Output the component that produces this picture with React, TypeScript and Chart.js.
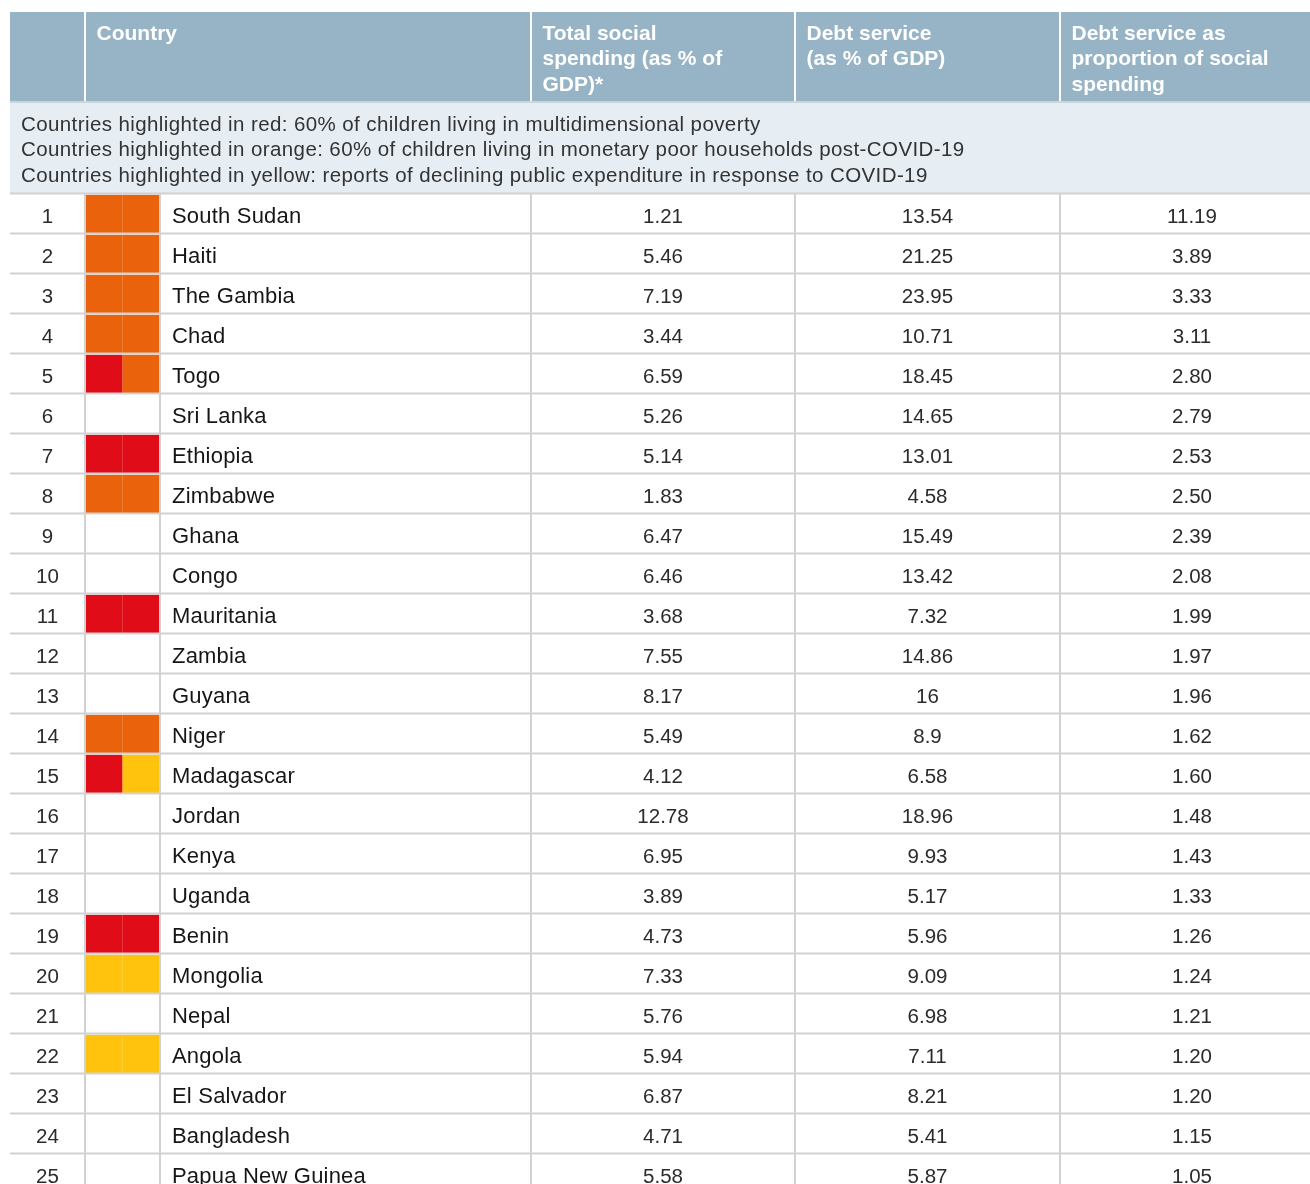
import React, { useEffect, useRef } from "react";
import { Chart, registerables } from "chart.js";

Chart.register(...registerables);

// ---------------- data ----------------
const ranks = [1, 2, 3, 4, 5, 6, 7, 8, 9, 10, 11, 12, 13, 14, 15, 16, 17, 18, 19, 20, 21, 22, 23, 24, 25];

const countries = [
  "South Sudan", "Haiti", "The Gambia", "Chad", "Togo", "Sri Lanka", "Ethiopia", "Zimbabwe",
  "Ghana", "Congo", "Mauritania", "Zambia", "Guyana", "Niger", "Madagascar", "Jordan",
  "Kenya", "Uganda", "Benin", "Mongolia", "Nepal", "Angola", "El Salvador", "Bangladesh",
  "Papua New Guinea",
];

const socialSpending = [
  1.21, 5.46, 7.19, 3.44, 6.59, 5.26, 5.14, 1.83, 6.47, 6.46, 3.68, 7.55, 8.17, 5.49, 4.12,
  12.78, 6.95, 3.89, 4.73, 7.33, 5.76, 5.94, 6.87, 4.71, 5.58,
];

const debtService = [
  13.54, 21.25, 23.95, 10.71, 18.45, 14.65, 13.01, 4.58, 15.49, 13.42, 7.32, 14.86, 16, 8.9,
  6.58, 18.96, 9.93, 5.17, 5.96, 9.09, 6.98, 7.11, 8.21, 5.41, 5.87,
];

const debtShare = [
  11.19, 3.89, 3.33, 3.11, 2.8, 2.79, 2.53, 2.5, 2.39, 2.08, 1.99, 1.97, 1.96, 1.62, 1.6,
  1.48, 1.43, 1.33, 1.26, 1.24, 1.21, 1.2, 1.2, 1.15, 1.05,
];

// highlight of each row: [left half, right half]
const highlights: (string | null)[][] = [
  ["orange", "orange"], ["orange", "orange"], ["orange", "orange"], ["orange", "orange"],
  ["red", "orange"], [null, null], ["red", "red"], ["orange", "orange"], [null, null],
  [null, null], ["red", "red"], [null, null], [null, null], ["orange", "orange"],
  ["red", "yellow"], [null, null], [null, null], [null, null], ["red", "red"],
  ["yellow", "yellow"], [null, null], ["yellow", "yellow"], [null, null], [null, null],
  [null, null],
];

const headerLabels = [
  ["Country"],
  ["Total social", "spending (as % of", "GDP)*"],
  ["Debt service", "(as % of GDP)"],
  ["Debt service as", "proportion of social", "spending"],
];

const noteLines = [
  "Countries highlighted in red: 60% of children living in multidimensional poverty",
  "Countries highlighted in orange: 60% of children living in monetary poor households post-COVID-19",
  "Countries highlighted in yellow: reports of declining public expenditure in response to COVID-19",
];

// ---------------- styles / layout ----------------
const palette: Record<string, string> = {
  red: "#E00D18",
  orange: "#EB620C",
  yellow: "#FFC30D",
};
const HEADER_BG = "#97B4C6";
const NOTE_BG = "#E6EDF3";
const GRID = "#D2D2D2";

// x layout (in canvas-wide x scale units)
const COL = {
  left: 10,
  rank: 85,
  swatchMid: 122.5,
  country: 160,
  c3: 531,
  c4: 795,
  c5: 1060,
  right: 1324,
};
// y layout (in row units: body row i spans [i, i+1])
const Y_MIN = -4.85;
const Y_MAX = 24.75;
const HEADER_TOP = -4.55;
const HEADER_BOTTOM = -2.325;
const NOTE_TOP = -2.275;
const NOTE_BOTTOM = 0;

const FONT = "'Liberation Sans', Arial, sans-serif";

const tablePlugin = {
  id: "tableDraw",
  beforeDatasetsDraw(chart: any) {
    const { ctx } = chart;
    const xs = chart.scales.x;
    const ys = chart.scales.y;
    const px = (v: number) => xs.getPixelForValue(v);
    const py = (v: number) => ys.getPixelForValue(v);
    ctx.save();
    ctx.fillStyle = "#ffffff";
    ctx.fillRect(0, 0, chart.width, chart.height);
    // header band
    ctx.fillStyle = HEADER_BG;
    ctx.fillRect(px(COL.left), py(HEADER_TOP), px(COL.right) - px(COL.left), py(HEADER_BOTTOM) - py(HEADER_TOP));
    // border between header and note
    ctx.fillStyle = "#CCD5DC";
    ctx.fillRect(px(COL.left), py(HEADER_BOTTOM), px(COL.right) - px(COL.left), py(NOTE_TOP) - py(HEADER_BOTTOM));
    // note band
    ctx.fillStyle = NOTE_BG;
    ctx.fillRect(px(COL.left), py(NOTE_TOP), px(COL.right) - px(COL.left), py(NOTE_BOTTOM) - py(NOTE_TOP));
    // header separators (white)
    ctx.strokeStyle = "#ffffff";
    ctx.lineWidth = 2;
    [COL.rank, COL.c3, COL.c4, COL.c5].forEach((c) => {
      ctx.beginPath();
      ctx.moveTo(px(c), py(HEADER_TOP));
      ctx.lineTo(px(c), py(HEADER_BOTTOM));
      ctx.stroke();
    });
    ctx.restore();
  },
  afterDatasetsDraw(chart: any) {
    const { ctx } = chart;
    const xs = chart.scales.x;
    const ys = chart.scales.y;
    const px = (v: number) => xs.getPixelForValue(v);
    const py = (v: number) => ys.getPixelForValue(v);
    const n = countries.length;
    ctx.save();
    // grid lines in body
    ctx.strokeStyle = GRID;
    ctx.lineWidth = 2;
    for (let k = 0; k <= n; k++) {
      ctx.beginPath();
      ctx.moveTo(px(COL.left), py(k) - 0.5);
      ctx.lineTo(px(COL.right), py(k) - 0.5);
      ctx.stroke();
    }
    [COL.rank, COL.country, COL.c3, COL.c4, COL.c5].forEach((c) => {
      ctx.beginPath();
      ctx.moveTo(px(c), py(0));
      ctx.lineTo(px(c), py(n));
      ctx.stroke();
    });

    // header text
    ctx.fillStyle = "#ffffff";
    ctx.font = `bold 21px ${FONT}`;
    ctx.textAlign = "left";
    ctx.textBaseline = "alphabetic";
    const headerX = [COL.rank, COL.c3, COL.c4, COL.c5];
    const hTop = py(HEADER_TOP);
    headerLabels.forEach((lines, ci) => {
      lines.forEach((t, li) => {
        ctx.fillText(t, px(headerX[ci]) + 11.5, hTop + 28 + li * 25.3);
      });
    });

    // note text
    ctx.fillStyle = "#333333";
    ctx.font = `20.5px ${FONT}`;
    ctx.letterSpacing = "0.4px";
    const nTop = py(NOTE_TOP);
    noteLines.forEach((t, li) => {
      ctx.fillText(t, px(COL.left) + 11, nTop + 28 + li * 25.4);
    });
    ctx.letterSpacing = "0px";

    // body text
    for (let i = 0; i < n; i++) {
      const base = py(i + 0.5) + 8.5;
      ctx.font = `20.5px ${FONT}`;
      ctx.fillStyle = "#2b2b2b";
      ctx.textAlign = "center";
      ctx.letterSpacing = "0px";
      ctx.fillText(String(ranks[i]), (px(COL.left) + px(COL.rank)) / 2, base);
      ctx.fillText(socialSpending[i].toFixed(2), (px(COL.c3) + px(COL.c4)) / 2, base);
      ctx.fillText(String(debtService[i]), (px(COL.c4) + px(COL.c5)) / 2, base);
      ctx.fillText(debtShare[i].toFixed(2), (px(COL.c5) + px(COL.right)) / 2, base);
      ctx.textAlign = "left";
      ctx.fillStyle = "#161616";
      ctx.font = `22px ${FONT}`;
      ctx.letterSpacing = "0.2px";
      ctx.fillText(countries[i], px(COL.country) + 12, base);
    }
    ctx.letterSpacing = "0px";
    ctx.restore();
  },
};

// bar data for the colour swatches
const swatchPoints: { x: [number, number]; y: number }[] = [];
const swatchColors: string[] = [];
highlights.forEach((pair, i) => {
  const [l, r] = pair;
  if (l) {
    swatchPoints.push({ x: [COL.rank + 1, COL.swatchMid - 0.2], y: i + 0.5 });
    swatchColors.push(palette[l]);
  }
  if (r) {
    swatchPoints.push({ x: [COL.swatchMid + 0.3, COL.country - 0.6], y: i + 0.5 });
    swatchColors.push(palette[r]);
  }
});

export default function App() {
  const ref = useRef<HTMLCanvasElement | null>(null);
  useEffect(() => {
    if (!ref.current) return;
    const chart = new Chart(ref.current, {
      type: "bar",
      data: {
        datasets: [
          {
            label: "highlight",
            data: swatchPoints as any,
            backgroundColor: swatchColors,
            borderWidth: 0,
            barThickness: 38,
          },
        ],
      },
      options: {
        indexAxis: "y",
        animation: false,
        responsive: false,
        events: [],
        layout: { padding: 0 },
        plugins: { legend: { display: false }, tooltip: { enabled: false } },
        scales: {
          x: { type: "linear", min: 0, max: 1310, display: false, offset: false, grace: 0 },
          y: { type: "linear", min: Y_MIN, max: Y_MAX, reverse: true, display: false, offset: false, grace: 0 },
        },
      },
      plugins: [tablePlugin],
    });
    return () => chart.destroy();
  }, []);
  return (
    <div style={{ position: "absolute", left: 0, top: 0, width: 1310, height: 1184, background: "#fff" }}>
      <canvas ref={ref} width={1310} height={1184} style={{ display: "block" }} />
    </div>
  );
}
